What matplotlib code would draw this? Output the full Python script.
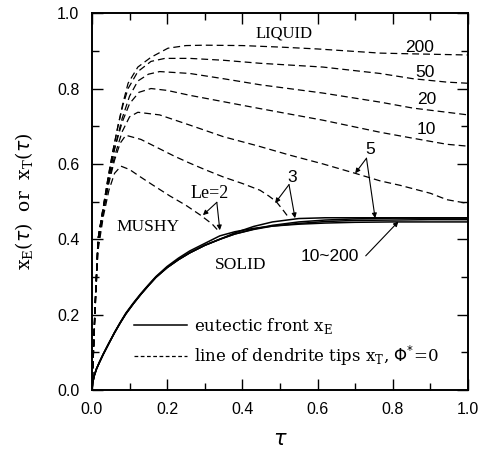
import matplotlib
matplotlib.use("Agg")
import matplotlib.pyplot as plt
from matplotlib.lines import Line2D
from matplotlib.ticker import MultipleLocator

# dendrite tip lines x_T(tau), one per Lewis number
tau2 = [0, 0.004, 0.008, 0.016, 0.03, 0.045, 0.06, 0.077, 0.10, 0.128, 0.16, 0.207, 0.25, 0.29, 0.32, 0.34]
xt2 = [0, 0.10, 0.20, 0.37, 0.46, 0.53, 0.575, 0.594, 0.585, 0.566, 0.545, 0.515, 0.49, 0.463, 0.44, 0.418]

tau3 = [0, 0.004, 0.008, 0.016, 0.03, 0.045, 0.06, 0.075, 0.09, 0.13, 0.18, 0.22, 0.26, 0.30, 0.35,
        0.40, 0.447, 0.47, 0.49, 0.51, 0.525]
xt3 = [0, 0.10, 0.21, 0.38, 0.47, 0.55, 0.61, 0.655, 0.676, 0.665, 0.64, 0.62, 0.602, 0.585, 0.565,
       0.548, 0.53, 0.515, 0.50, 0.475, 0.455]

tau5 = [0, 0.004, 0.008, 0.016, 0.03, 0.045, 0.06, 0.08, 0.10, 0.122, 0.18, 0.26, 0.35, 0.44,
        0.527, 0.614, 0.70, 0.766, 0.82, 0.90, 0.944, 1.0]
xt5 = [0, 0.10, 0.21, 0.39, 0.475, 0.555, 0.62, 0.685, 0.725, 0.737, 0.73, 0.703, 0.672, 0.648,
       0.623, 0.60, 0.575, 0.555, 0.543, 0.522, 0.505, 0.495]

tau10 = [0, 0.004, 0.008, 0.016, 0.03, 0.045, 0.06, 0.08, 0.10, 0.125, 0.157, 0.20, 0.26, 0.35,
         0.44, 0.527, 0.614, 0.766, 0.854, 0.944, 1.0]
xt10 = [0, 0.11, 0.22, 0.40, 0.48, 0.565, 0.64, 0.71, 0.76, 0.79, 0.80, 0.795, 0.782, 0.765,
        0.748, 0.732, 0.716, 0.684, 0.668, 0.652, 0.647]

tau20 = [0, 0.004, 0.008, 0.016, 0.03, 0.045, 0.06, 0.08, 0.10, 0.122, 0.15, 0.18, 0.26, 0.35,
         0.447, 0.614, 0.766, 0.854, 0.944, 1.0]
xt20 = [0, 0.11, 0.22, 0.40, 0.485, 0.565, 0.64, 0.72, 0.78, 0.82, 0.838, 0.845, 0.84, 0.826,
        0.81, 0.788, 0.764, 0.748, 0.737, 0.73]

tau50 = [0, 0.004, 0.008, 0.016, 0.03, 0.043, 0.056, 0.069, 0.082, 0.096, 0.122, 0.157, 0.194,
         0.26, 0.35, 0.447, 0.614, 0.766, 0.854, 0.944, 1.0]
xt50 = [0, 0.11, 0.22, 0.40, 0.485, 0.565, 0.636, 0.70, 0.755, 0.80, 0.845, 0.872, 0.88,
        0.88, 0.875, 0.867, 0.857, 0.84, 0.826, 0.817, 0.814]

tau200 = [0, 0.004, 0.008, 0.016, 0.03, 0.043, 0.056, 0.069, 0.082, 0.096, 0.122, 0.157, 0.202,
          0.25, 0.30, 0.40, 0.50, 0.60, 0.766, 0.854, 1.0]
xt200 = [0, 0.11, 0.22, 0.40, 0.485, 0.565, 0.636, 0.70, 0.76, 0.814, 0.857, 0.883, 0.907,
         0.914, 0.915, 0.914, 0.91, 0.905, 0.894, 0.892, 0.889]

tip_curves = [(tau2, xt2), (tau3, xt3), (tau5, xt5), (tau10, xt10),
              (tau20, xt20), (tau50, xt50), (tau200, xt200)]

# eutectic fronts x_E(tau)
tauE = [0, 0.002, 0.006, 0.012, 0.02, 0.03, 0.045, 0.06, 0.075, 0.09, 0.11, 0.13, 0.15, 0.17,
        0.20, 0.23, 0.26, 0.30, 0.34, 0.38, 0.43, 0.48, 0.55, 0.62, 0.70, 0.80, 0.90, 1.0]
xE_hi = [0, 0.02, 0.038, 0.056, 0.074, 0.095, 0.124, 0.152, 0.178, 0.202, 0.229, 0.254, 0.277, 0.299,
         0.325, 0.346, 0.364, 0.384, 0.40, 0.414, 0.426, 0.435, 0.442, 0.447, 0.45, 0.451, 0.452, 0.452]
xE_2 = [0, 0.02, 0.038, 0.056, 0.074, 0.095, 0.124, 0.153, 0.179, 0.204, 0.231, 0.256, 0.279, 0.301,
        0.328, 0.35, 0.369, 0.389, 0.409, 0.42, 0.429, 0.435, 0.44, 0.443, 0.445, 0.446, 0.446, 0.446]
xE_3 = [0, 0.02, 0.038, 0.056, 0.074, 0.095, 0.124, 0.152, 0.178, 0.202, 0.229, 0.254, 0.277, 0.299,
        0.325, 0.346, 0.364, 0.384, 0.40, 0.417, 0.434, 0.446, 0.455, 0.457, 0.457, 0.457, 0.457, 0.457]
xE_5 = [0, 0.02, 0.038, 0.056, 0.074, 0.095, 0.124, 0.152, 0.178, 0.202, 0.229, 0.254, 0.277, 0.299,
        0.325, 0.346, 0.364, 0.384, 0.40, 0.414, 0.427, 0.437, 0.446, 0.451, 0.454, 0.456, 0.456, 0.456]
front_curves = [xE_hi, xE_2, xE_3, xE_5]

fig = plt.figure(figsize=(4.88, 4.54), dpi=100)
ax = fig.add_axes([0.1885, 0.141, 0.7705, 0.83])

for xe in front_curves:
    ax.plot(tauE, xe, color="k", lw=1.1, solid_capstyle="butt")

for t, x in tip_curves:
    ax.plot(t, x, color="k", lw=0.9, linestyle=(0, (5.5, 3.2)))

ax.set_xlim(0, 1)
ax.set_ylim(0, 1)
ax.xaxis.set_major_locator(MultipleLocator(0.2))
ax.xaxis.set_minor_locator(MultipleLocator(0.1))
ax.yaxis.set_major_locator(MultipleLocator(0.2))
ax.yaxis.set_minor_locator(MultipleLocator(0.1))
ax.tick_params(which="both", direction="in", top=True, right=True, width=1.0)
ax.tick_params(which="major", length=8, labelsize=11.5, pad=9)
ax.tick_params(which="minor", length=5)
for lab in ax.get_xticklabels() + ax.get_yticklabels():
    lab.set_family("Liberation Sans")
for s in ax.spines.values():
    s.set_linewidth(1.4)

ax.set_xlabel(r"$\tau$", fontsize=15, labelpad=8)
ax.set_ylabel(r"x$_\mathregular{E}$($\tau$)  or  x$_\mathregular{T}$($\tau$)",
              family="DejaVu Serif", fontsize=13.5, labelpad=15)

serif = "Liberation Serif"
ax.text(0.51, 0.947, "LIQUID", family=serif, fontsize=12, ha="center", va="center")
ax.text(0.149, 0.432, "MUSHY", family=serif, fontsize=12.5, ha="center", va="center")
ax.text(0.394, 0.332, "SOLID", family=serif, fontsize=12.5, ha="center", va="center")

num = dict(family="Liberation Sans", fontsize=12.5, ha="center", va="center")
ax.text(0.872, 0.910, "200", **num)
ax.text(0.886, 0.843, "50", **num)
ax.text(0.890, 0.770, "20", **num)
ax.text(0.890, 0.690, "10", **num)
ax.text(0.740, 0.637, "5", **num)
ax.text(0.532, 0.565, "3", **num)
ax.text(0.633, 0.353, "10~200", **num)
ax.text(0.314, 0.522, "Le=2", family=serif, fontsize=13, ha="center", va="center")

arr = dict(arrowstyle="-|>", lw=0.8, color="k", mutation_scale=7, shrinkA=0, shrinkB=0)
ax.annotate("", xy=(0.295, 0.464), xytext=(0.332, 0.498), arrowprops=arr)
ax.annotate("", xy=(0.340, 0.424), xytext=(0.332, 0.498), arrowprops=arr)
ax.annotate("", xy=(0.487, 0.496), xytext=(0.524, 0.545), arrowprops=arr)
ax.annotate("", xy=(0.540, 0.456), xytext=(0.524, 0.545), arrowprops=arr)
ax.annotate("", xy=(0.700, 0.575), xytext=(0.730, 0.615), arrowprops=arr)
ax.annotate("", xy=(0.753, 0.456), xytext=(0.730, 0.615), arrowprops=arr)
ax.annotate("", xy=(0.815, 0.447), xytext=(0.728, 0.356), arrowprops=arr)

handles = [Line2D([], [], color="k", lw=1.1),
           Line2D([], [], color="k", lw=0.9, linestyle=(0, (3, 2)))]
labels = [r"eutectic front x$_\mathregular{E}$",
          r"line of dendrite tips x$_\mathregular{T}$, $\Phi^{*}$=0"]
ax.legend(handles, labels, loc="lower left", bbox_to_anchor=(0.072, 0.018),
          frameon=False, handlelength=3.2, handletextpad=0.4, labelspacing=0.5,
          prop={"family": "DejaVu Serif", "size": 12})

fig.savefig("out.png", dpi=100)
